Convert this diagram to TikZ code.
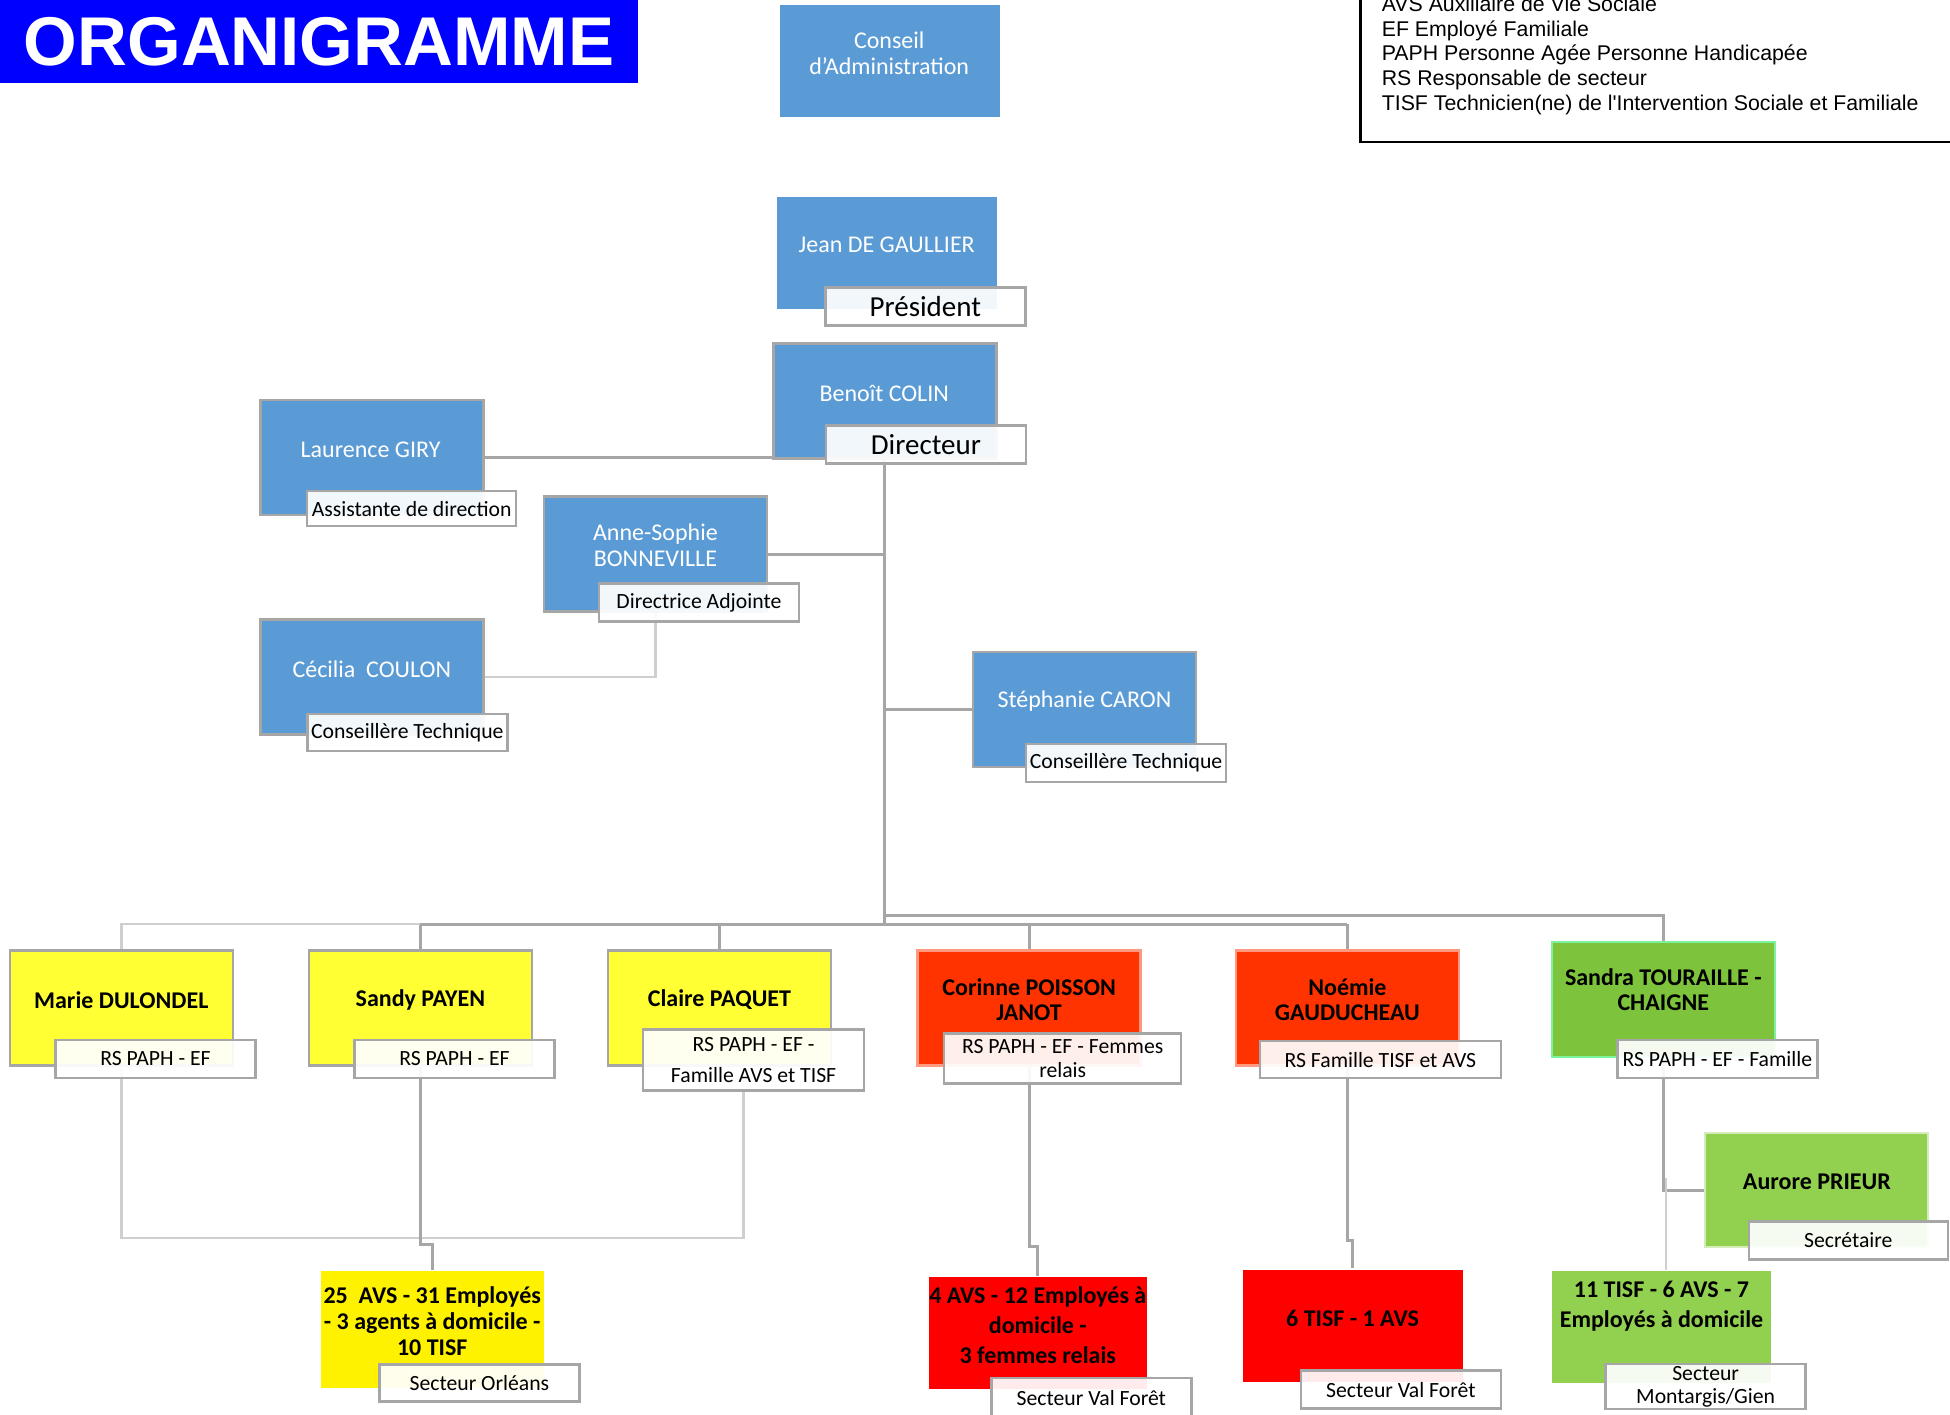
\documentclass[tikz,border=0pt]{standalone}
\usepackage{fontspec}
\setmainfont{Carlito}
\newfontfamily\arialfont{Liberation Sans}
\usetikzlibrary{backgrounds}

\definecolor{officeblue}{HTML}{5B9BD5}
\definecolor{framegray}{HTML}{A6A6A6}
\definecolor{paleline}{HTML}{CFCFCF}
\definecolor{lemon}{HTML}{FFFF33}
\definecolor{vermilion}{HTML}{FF3300}
\definecolor{leaf}{HTML}{7DC33B}
\definecolor{lightleaf}{HTML}{92D050}
\definecolor{mint}{HTML}{7CF29C}
\definecolor{titleblue}{HTML}{0000FF}

\tikzset{
  card/.style={minimum width=223pt, minimum height=115pt, inner sep=0pt, line width=2.5pt},
  bluecard/.style={card, fill=officeblue, draw=framegray},
  uppername/.style={text=white, align=center, inner sep=0pt, font=\fontsize{24}{26}\selectfont},
  lowername/.style={align=center, inner sep=0pt, font=\bfseries\fontsize{24}{25}\selectfont},
  role/.style={draw=framegray, line width=2.5pt, fill=white, fill opacity=0.92, text opacity=1,
    minimum width=200pt, minimum height=38pt, inner sep=0pt, align=center, font=\fontsize{21.7}{24}\selectfont},
  bigrole/.style={role, font=\fontsize{29}{32}\selectfont},
  lowrole/.style={role, font=\fontsize{21.7}{23.6}\selectfont},
  legendline/.style={anchor=base west, inner sep=0pt, font=\arialfont\fontsize{21.3}{24}\selectfont},
  link/.style={draw=framegray, line width=3pt},
  faint/.style={draw=paleline, line width=2.5pt}
}

\begin{document}
\begin{tikzpicture}[x=1pt,y=-1pt]
\useasboundingbox (0,0) rectangle (1950,1414);

% title and legend
\node[fill=titleblue, minimum width=638pt, minimum height=83pt, inner sep=0pt, text=white,
  font=\arialfont\bfseries\fontsize{69}{69}\selectfont] (title) at (319,41.5) {ORGANIGRAMME};
\draw[line width=2.5pt] (1360.5,-5) -- (1360.5,141.8) -- (1960,141.8);
\foreach \t [count=\i from 0] in {AVS Auxiliaire de Vie Sociale, EF Employé Familiale,
  PAPH Personne Agée Personne Handicapée, RS Responsable de secteur,
  TISF Technicien(ne) de l'Intervention Sociale et Familiale}
  \node[legendline] (leg\i) at (1381.6,{11.6+24.6*\i}) {\t};

% direction
\node[bluecard, draw=none, minimum width=220pt, minimum height=112pt] (conseil) at (889.8,61) {};
\node[uppername] (conseil-t) at (889.2,52.8) {Conseil\\d'Administration};

\node[bluecard, draw=none, minimum width=220pt, minimum height=112pt] (jean) at (887.4,252.5) {};
\node[uppername] (jean-t) at (886.7,245) {Jean DE GAULLIER};
\node[bigrole] (jean-r) at (925.3,306.6) {Président};

\node[bluecard] (benoit) at (884.8,401) {};
\node[uppername] (benoit-t) at (884.2,393) {Benoît COLIN};
\node[bigrole] (benoit-r) at (925.9,444.6) {Directeur};

\node[bluecard] (giry) at (371.9,457.7) {};
\node[uppername] (giry-t) at (370.6,450.2) {Laurence GIRY};
\node[role, minimum width=209pt, minimum height=35pt] (giry-r) at (411.7,508.6) {Assistante de direction};

\node[bluecard] (anne) at (655.4,554) {};
\node[uppername] (anne-t) at (655.4,545.4) {Anne-Sophie\\BONNEVILLE};
\node[role] (anne-r) at (698.9,602.5) {Directrice Adjointe};

\node[bluecard] (coulon) at (371.9,677.2) {};
\node[uppername] (coulon-t) at (371.8,669) {Cécilia\ \ COULON};
\node[role, minimum height=37pt] (coulon-r) at (407.3,732.5) {Conseillère Technique};

\node[bluecard] (caron) at (1084.4,709.5) {};
\node[uppername] (caron-t) at (1084.4,701.4) {Stéphanie CARON};
\node[role] (caron-r) at (1126.1,763) {Conseillère Technique};

% responsables de secteur
\foreach \n/\x/\t in {marie/121.3/Marie DULONDEL, sandy/420.4/Sandy PAYEN, claire/719.4/Claire PAQUET}
{
  \node[card, fill=lemon, draw=framegray] (\n) at (\x,1008) {};
  \node[lowername] (\n-t) at (\x,1000) {\t};
}
\node[lowrole] (marie-r) at (155.5,1059) {RS PAPH - EF};
\node[lowrole] (sandy-r) at (454.5,1059) {RS PAPH - EF};
\node[lowrole, minimum width=221pt, minimum height=61pt, font=\fontsize{21.7}{31}\selectfont]
  (claire-r) at (753.6,1060.2) {RS PAPH - EF -\\Famille AVS et TISF};

\node[card, fill=vermilion, draw=vermilion!50] (corinne) at (1029.1,1008) {};
\node[lowername] (corinne-t) at (1029.1,999.9) {Corinne POISSON\\JANOT};
\node[lowrole, minimum width=237pt, minimum height=50pt] (corinne-r) at (1062.7,1058.3) {RS PAPH - EF - Femmes\\relais};

\node[card, fill=vermilion, draw=vermilion!50] (noemie) at (1347.4,1008) {};
\node[lowername] (noemie-t) at (1347.4,999.9) {Noémie\\GAUDUCHEAU};
\node[lowrole, minimum width=241pt, minimum height=37pt] (noemie-r) at (1380.4,1059.6) {RS Famille TISF et AVS};

\node[card, fill=leaf, draw=mint] (sandra) at (1663.3,999.3) {};
\node[lowername] (sandra-t) at (1663.3,990) {Sandra TOURAILLE -\\CHAIGNE};
\node[lowrole] (sandra-r) at (1717.4,1059) {RS PAPH - EF - Famille};

\node[card, fill=lightleaf, draw=lightleaf!40, minimum height=114pt] (aurore) at (1816.3,1190.1) {};
\node[lowername] (aurore-t) at (1816.9,1181.4) {Aurore PRIEUR};
\node[lowrole, minimum width=199pt] (aurore-r) at (1848.3,1240.5) {Secrétaire};

% secteurs
\node[card, fill=yellow, minimum height=117pt] (orleans) at (432.2,1329.5) {};
\node[lowername, font=\bfseries\fontsize{24}{26}\selectfont] (orleans-t) at (432.2,1320.7)
  {25\ \ AVS - 31 Employés\\- 3 agents à domicile -\\10 TISF};
\node[lowrole, minimum height=37pt] (orleans-r) at (479.4,1382.9) {Secteur Orléans};

\node[card, fill=red, minimum width=218pt, minimum height=112pt] (valforet) at (1037.8,1333.2) {};
\node[lowername, font=\bfseries\fontsize{24}{30}\selectfont] (valforet-t) at (1037.8,1325.6)
  {4 AVS - 12 Employés à\\domicile -\\3 femmes relais};
\node[lowrole, minimum height=40pt] (valforet-r) at (1091.3,1398) {Secteur Val Forêt};

\node[card, fill=red, minimum width=220pt, minimum height=112pt] (tisf) at (1352.5,1325.7) {};
\node[lowername] (tisf-t) at (1352.5,1318.2) {6 TISF - 1 AVS};
\node[lowrole] (tisf-r) at (1400.9,1389.7) {Secteur Val Forêt};

\node[card, fill=lightleaf, minimum width=219pt, minimum height=112pt] (montargis) at (1661.5,1327) {};
\node[lowername, font=\bfseries\fontsize{24}{30}\selectfont] (montargis-t) at (1661.5,1305.8)
  {11 TISF - 6 AVS - 7\\Employés à domicile};
\node[lowrole, minimum height=45pt] (montargis-r) at (1705.6,1386.6) {Secteur\\Montargis/Gien};

% liaisons
\coordinate (busA) at (884.8,915.3);
\coordinate (busB) at (884.8,924);
\coordinate (orl) at (420.4,1238);
\coordinate (jogO) at (420.4,1244);
\coordinate (jogV) at (1029.1,1246);
\coordinate (jogT) at (1347.4,1240);
\coordinate (mtop) at (1666,1178);
\begin{pgfonlayer}{background}
\fill[white] (0,0) rectangle (1950,1414);
\draw[link] (benoit.south) -- (busB);
\draw[link] (giry.east) -- (giry.east -| benoit.west);
\draw[link] (anne.east) -- (anne.east -| benoit.south);
\draw[link] (caron.west) -- (caron.west -| benoit.south);
\draw[faint] (coulon.east) -| (anne.south);
\draw[link] (busA) -| (sandra.north);
\draw[link] (busB -| sandy.north) -- (busB -| noemie.north);
\foreach \n in {sandy,claire,corinne,noemie}
  \draw[link] (busB -| \n.north) -- (\n.north);
\draw[faint] (marie.north) |- (busB -| sandy.north);
\draw[link] (sandra.south) |- (aurore.west);
\draw[faint] (mtop) -- (mtop |- montargis.north);
\draw[faint] (marie.south) -- (marie.south |- orl) -- ([xshift=-10pt]claire-r.south |- orl) -- ([xshift=-10pt]claire-r.south);
\draw[link] (sandy.south) -- (jogO) -| (orleans.north);
\draw[link] (corinne.south) -- (jogV) -| (valforet.north);
\draw[link] (noemie.south) -- (jogT) -| (tisf.north);
\end{pgfonlayer}
\end{tikzpicture}
\end{document}
